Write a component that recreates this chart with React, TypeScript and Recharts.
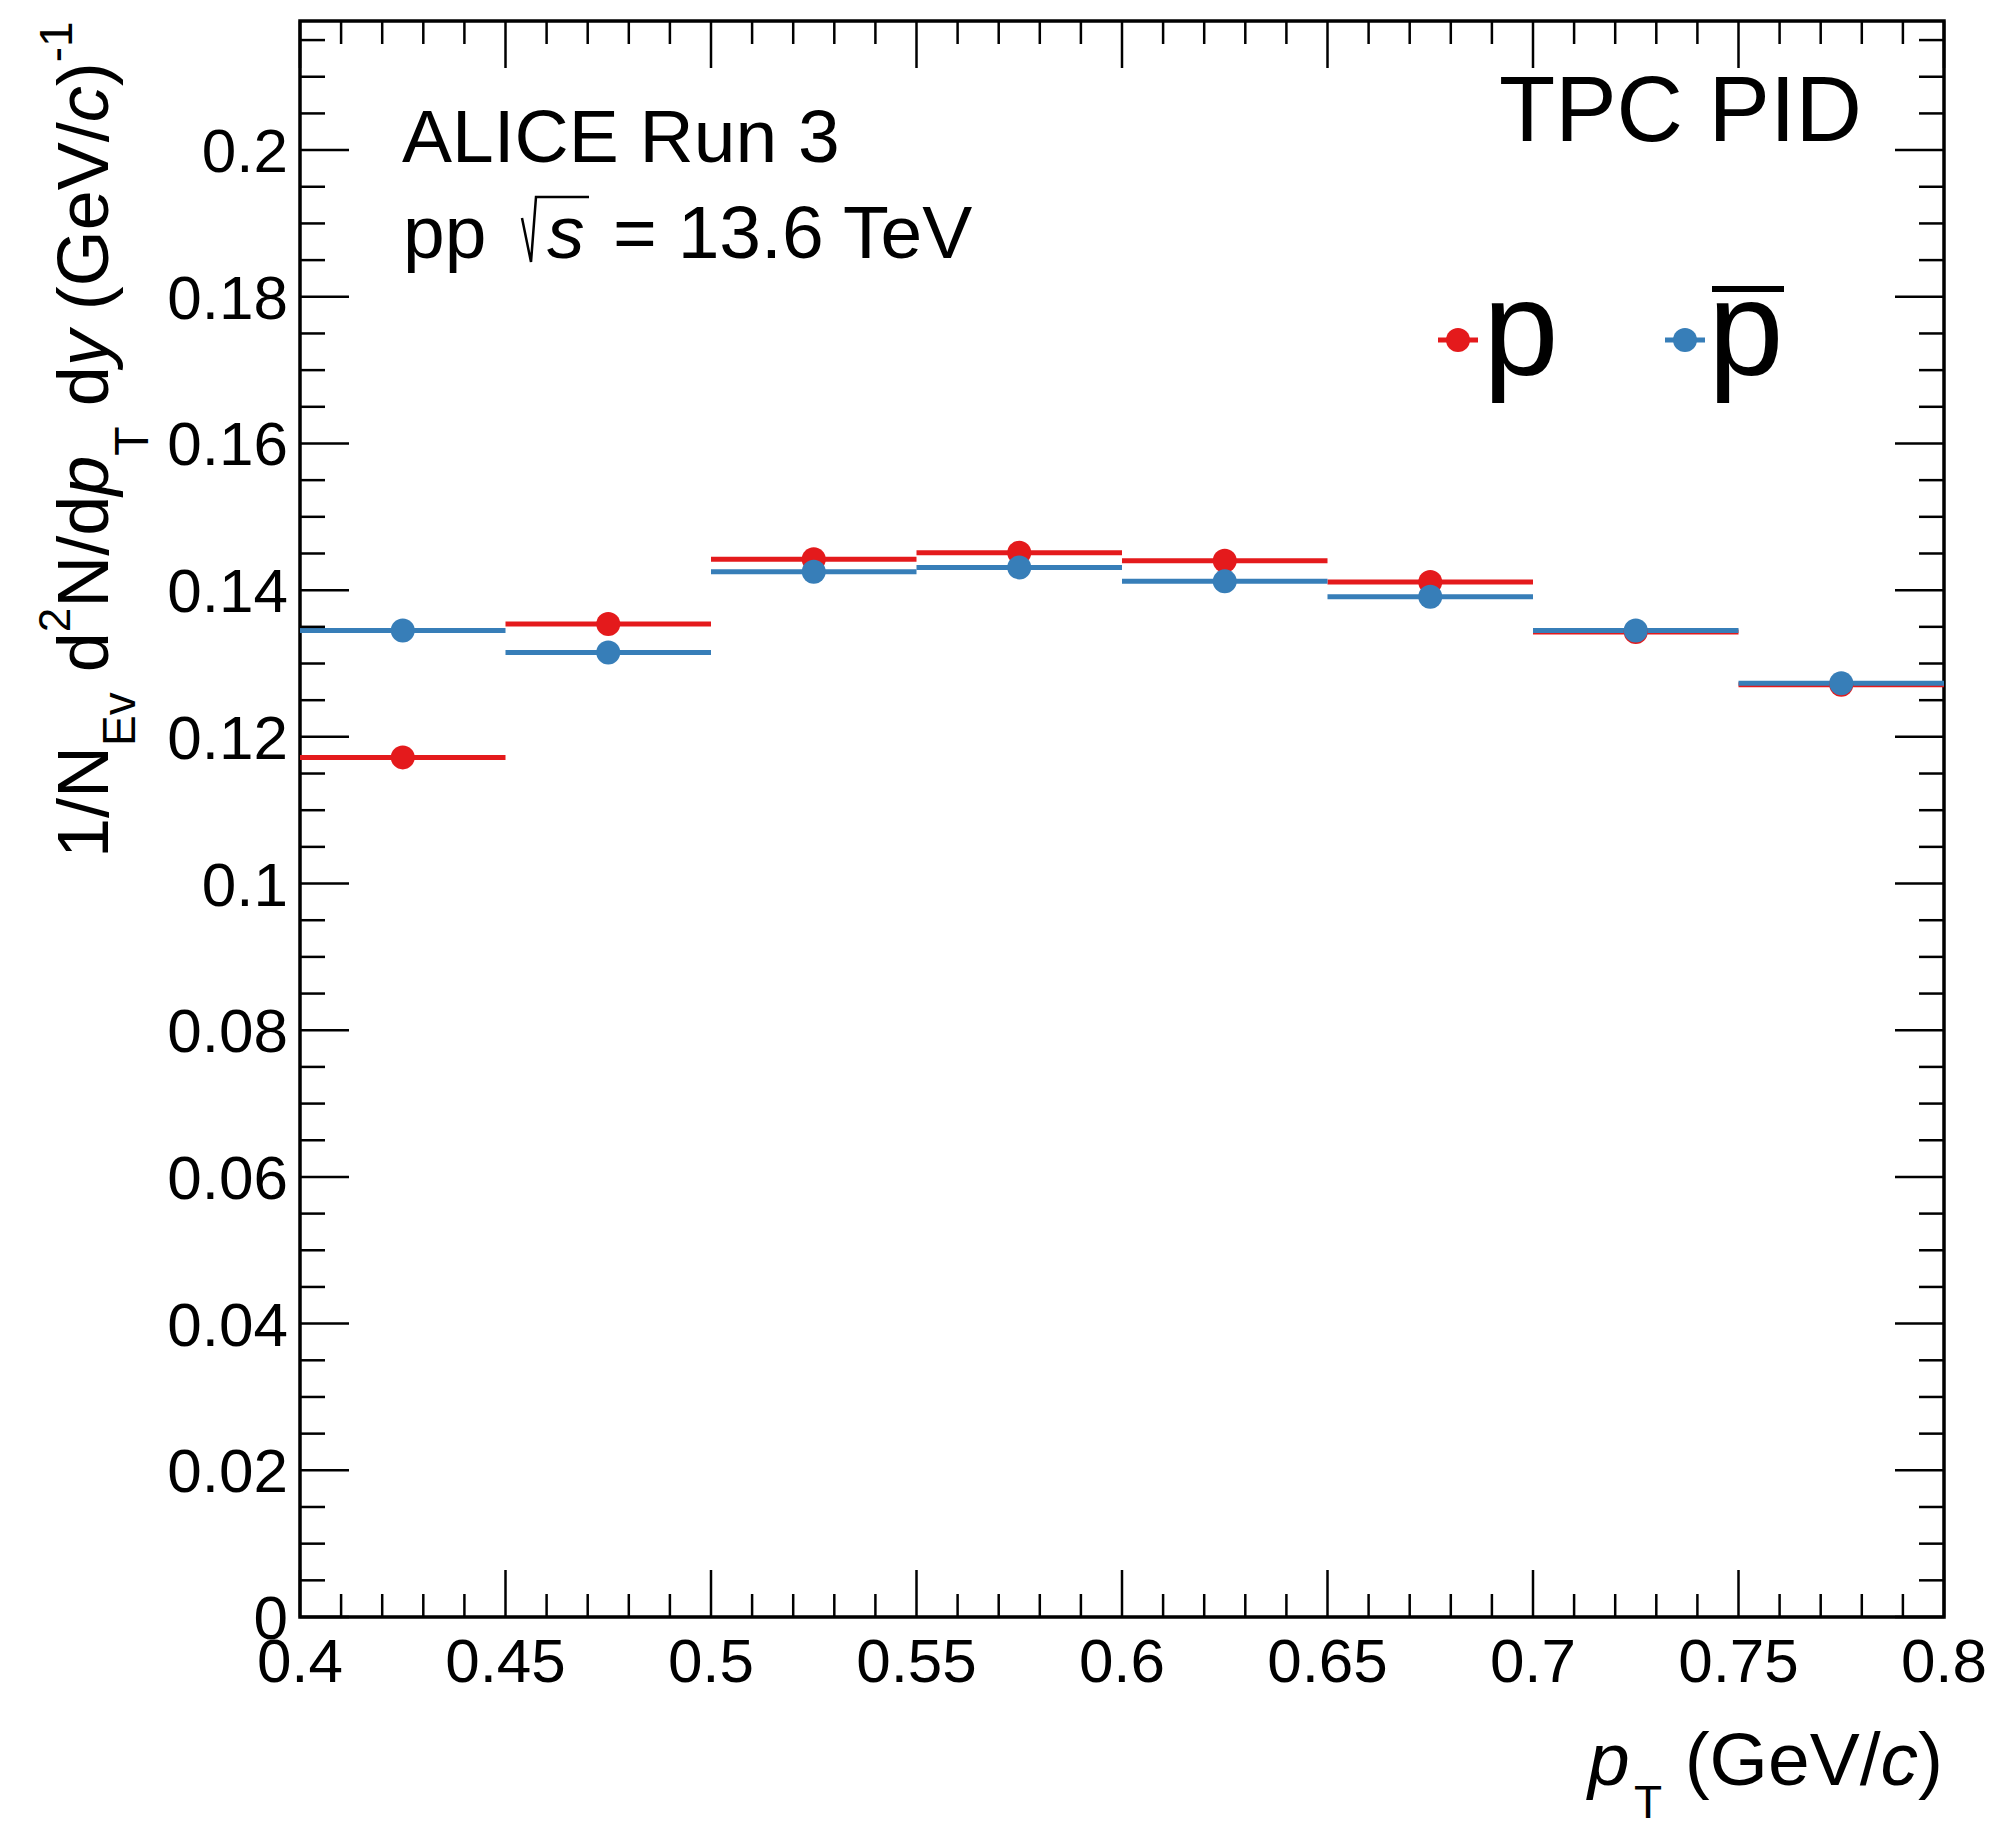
import React from 'react';
import { ComposedChart, Scatter, ErrorBar, XAxis, YAxis, ReferenceArea } from 'recharts';

// MARK: - Data

const binCenters = [0.425, 0.475, 0.525, 0.575, 0.625, 0.675, 0.725, 0.775];
const binHalfWidths = [0.025, 0.025, 0.025, 0.025, 0.025, 0.025, 0.025, 0.025];
const protonYield = [0.1172, 0.1354, 0.1442, 0.1451, 0.144, 0.1411, 0.1343, 0.1271];
const antiProtonYield = [0.1345, 0.1315, 0.1425, 0.1431, 0.1412, 0.1391, 0.1345, 0.1273];

const xMajorTicks = [0.4, 0.45, 0.5, 0.55, 0.6, 0.65, 0.7, 0.75, 0.8];
const yMajorTicks = [0, 0.02, 0.04, 0.06, 0.08, 0.1, 0.12, 0.14, 0.16, 0.18, 0.2];
const xDomain: [number, number] = [0.4, 0.8];
const yDomain: [number, number] = [0, 0.2176];

// minor tick positions (axis decoration, not data)
const steps = (from: number, to: number, step: number) => {
    const out: number[] = [];
    for (let v = from; v <= to + 1e-9; v += step) out.push(Math.round(v * 1000) / 1000);
    return out;
};
const xAllTicks = steps(0.4, 0.8, 0.01);
const yAllTicks = steps(0, 0.215, 0.005);
const isMajor = (list: number[], v: number) => list.some((m) => Math.abs(m - v) < 1e-6);

const RED = '#e41a1c';
const BLUE = '#377eb8';
const FONT = "'Liberation Sans', Arial, Helvetica, sans-serif";

const toRows = (ys: number[]) => binCenters.map((x, i) => ({ x, y: ys[i], ex: binHalfWidths[i] }));
const protonRows = toRows(protonYield);
const antiProtonRows = toRows(antiProtonYield);

const W = 1999;
const H = 1822;
// label axes take 1px each (a 0px axis is not drawn at all)
const MARGIN = { top: 21, right: 55, bottom: 204, left: 299 };
const PLOT_TOP = MARGIN.top;
const PLOT_RIGHT = W - MARGIN.right;

const TICK_W = 2.5;

// ROOT style: ticks on all four sides pointing inwards, labels on majors only
const XTick = ({ x, y, payload }: any) => {
    const major = isMajor(xMajorTicks, payload.value);
    const len = major ? 47 : 23;
    return (
        <g>
            <line x1={x} y1={y} x2={x} y2={y - len} stroke="#000" strokeWidth={TICK_W} />
            <line x1={x} y1={PLOT_TOP} x2={x} y2={PLOT_TOP + len} stroke="#000" strokeWidth={TICK_W} />
            {major && (
                <text x={x} y={y + 65} textAnchor="middle" fontSize={62} fontFamily={FONT} fill="#000">
                    {String(payload.value)}
                </text>
            )}
        </g>
    );
};

const YTick = ({ x, y, payload }: any) => {
    const major = isMajor(yMajorTicks, payload.value);
    const len = major ? 49 : 25;
    return (
        <g>
            <line x1={x} y1={y} x2={x + len} y2={y} stroke="#000" strokeWidth={TICK_W} />
            <line x1={PLOT_RIGHT} y1={y} x2={PLOT_RIGHT - len} y2={y} stroke="#000" strokeWidth={TICK_W} />
            {major && (
                <text x={x - 12} y={y + 22} textAnchor="end" fontSize={62} fontFamily={FONT} fill="#000">
                    {String(payload.value)}
                </text>
            )}
        </g>
    );
};

const dot = (color: string) => (props: any) => (
    <circle cx={props.cx} cy={props.cy} r={12} fill={color} />
);

const App = () => {
    return (
        <div style={{ position: 'absolute', left: 0, top: 0, width: W, height: H, background: '#fff' }}>
            <ComposedChart width={W} height={H} margin={MARGIN}>
                <XAxis
                    xAxisId="x"
                    dataKey="x"
                    type="number"
                    domain={xDomain}
                    allowDataOverflow
                    ticks={xAllTicks}
                    interval={0}
                    height={1}
                    tickSize={0}
                    tickMargin={0}
                    tickLine={false}
                    axisLine={false}
                    tick={XTick}
                />
                <YAxis
                    yAxisId="y"
                    dataKey="y"
                    type="number"
                    domain={yDomain}
                    allowDataOverflow
                    ticks={yAllTicks}
                    interval={0}
                    width={1}
                    tickSize={0}
                    tickMargin={0}
                    tickLine={false}
                    axisLine={false}
                    tick={YTick}
                />

                {/* Frame */}
                <ReferenceArea
                    xAxisId="x"
                    yAxisId="y"
                    x1={xDomain[0]}
                    x2={xDomain[1]}
                    y1={yDomain[0]}
                    y2={yDomain[1]}
                    fill="none"
                    stroke="#000"
                    strokeWidth={3.5}
                    ifOverflow="visible"
                />

                {/* p */}
                <Scatter
                    xAxisId="x"
                    yAxisId="y"
                    data={protonRows}
                    dataKey="y"
                    fill={RED}
                    shape={dot(RED)}
                    isAnimationActive={false}
                >
                    <ErrorBar dataKey="ex" direction="x" width={0} stroke={RED} strokeWidth={5} />
                </Scatter>

                {/* pbar */}
                <Scatter
                    xAxisId="x"
                    yAxisId="y"
                    data={antiProtonRows}
                    dataKey="y"
                    fill={BLUE}
                    shape={dot(BLUE)}
                    isAnimationActive={false}
                >
                    <ErrorBar dataKey="ex" direction="x" width={0} stroke={BLUE} strokeWidth={5} />
                </Scatter>
            </ComposedChart>

            {/* Texts, legend and axis titles */}
            <svg
                width={W}
                height={H}
                style={{ position: 'absolute', left: 0, top: 0, pointerEvents: 'none' }}
                fontFamily={FONT}
                fill="#000"
            >
                <text x={402} y={162} fontSize={75}>ALICE Run 3</text>

                <text x={403} y={258} fontSize={75}>pp</text>
                <path d="M522,218 L531,262 L536,197 L589,197" fill="none" stroke="#000" strokeWidth={2.5} />
                <text x={547} y={258} fontSize={75} fontStyle="italic">s</text>
                <text x={613} y={258} fontSize={75}>= 13.6 TeV</text>

                <text x={1862} y={141} fontSize={92} textAnchor="end">TPC PID</text>

                {/* legend */}
                <line x1={1438} y1={340} x2={1478} y2={340} stroke={RED} strokeWidth={5} />
                <circle cx={1458} cy={340} r={12} fill={RED} />
                <text x={1483} y={375} fontSize={136}>p</text>

                <line x1={1665} y1={340} x2={1705} y2={340} stroke={BLUE} strokeWidth={5} />
                <circle cx={1685} cy={340} r={12} fill={BLUE} />
                <text x={1708} y={375} fontSize={136}>p</text>
                <line x1={1712} y1={289} x2={1784} y2={289} stroke="#000" strokeWidth={6} />

                {/* x title */}
                <text x={1588} y={1785} fontSize={75} fontStyle="italic">p</text>
                <text x={1634} y={1818} fontSize={46}>T</text>
                <text x={1943} y={1785} fontSize={75} textAnchor="end">
                    (GeV/<tspan fontStyle="italic">c</tspan>)
                </text>

                {/* y title */}
                <text transform="translate(108, 858) rotate(-90)" fontSize={72}>
                    1/N
                    <tspan fontSize={46} dy={27}>Ev</tspan>
                    <tspan fontSize={72} dy={-27}>{' d'}</tspan>
                    <tspan fontSize={44} dy={-38}>2</tspan>
                    <tspan fontSize={72} dy={38}>N/d</tspan>
                    <tspan fontStyle="italic">p</tspan>
                    <tspan fontSize={48} dy={40}>T</tspan>
                    <tspan fontSize={72} dy={-40}>{' d'}</tspan>
                    <tspan fontStyle="italic">y</tspan>
                    <tspan>{' (GeV/'}</tspan>
                    <tspan fontStyle="italic">c</tspan>
                    <tspan>)</tspan>
                    <tspan fontSize={46} dy={-36}>-1</tspan>
                </text>
            </svg>
        </div>
    );
};

export default App;
